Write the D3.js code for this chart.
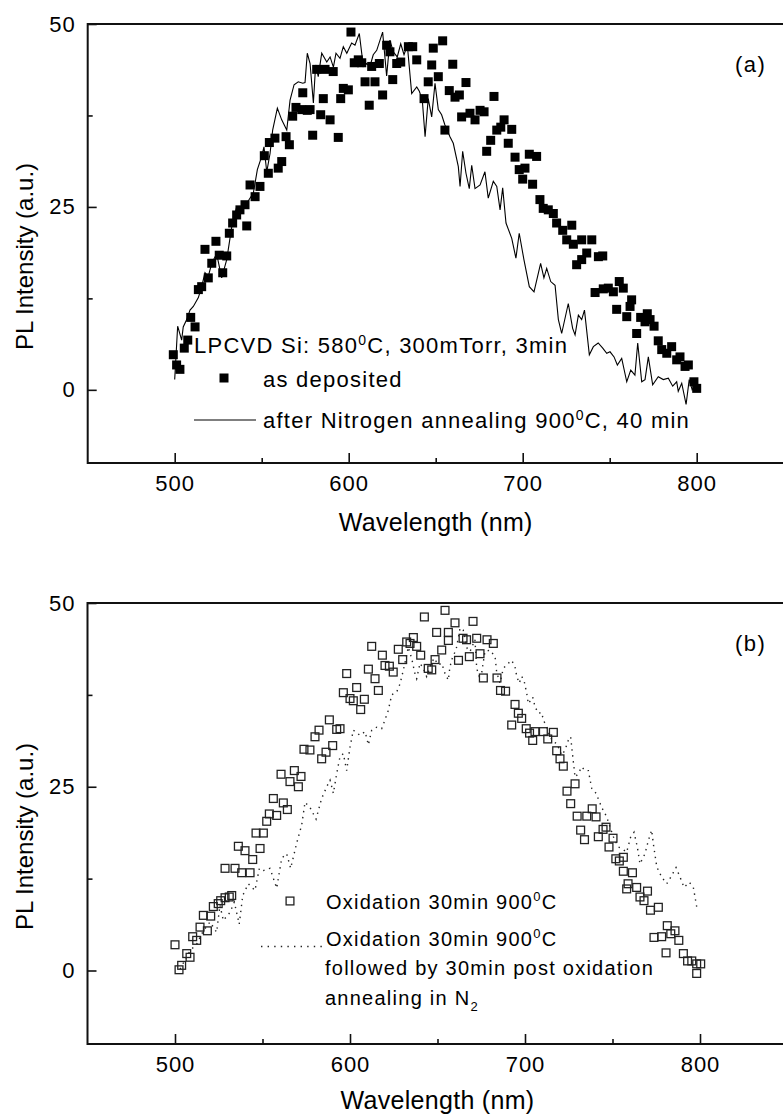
<!DOCTYPE html>
<html>
<head>
<meta charset="utf-8">
<script src="https://cdn.jsdelivr.net/npm/d3@7"></script>
<style>
  body { margin: 0; background: #fff; }
  svg text { font-family: 'Liberation Sans', Arial, Helvetica, sans-serif; fill: #000; }
</style>
</head>
<body>
<div id="wrapper"></div>
<script>
// ---- data (wavelength nm, PL intensity a.u.) ----

// (a) as deposited - filled squares
const asDeposited = [[499.2,4.8],[501.1,3.4],[503.0,2.8],[505.5,5.7],[507.5,6.8],[509.2,9.9],[511.7,8.6],[513.6,13.7],[515.5,14.1],[517.4,19.2],[519.3,15.3],[521.3,17.3],[523.7,20.3],[525.6,18.4],[527.6,16.0],[529.9,18.3],[531.4,21.4],[533.3,22.8],[535.6,23.9],[537.5,24.6],[540.4,25.3],[541.4,22.4],[543.3,28.0],[546.2,26.4],[549.0,27.8],[551.5,32.0],[553.8,29.6],[554.4,33.8],[557.6,34.4],[559.5,30.3],[561.5,31.2],[564.0,34.6],[565.9,33.5],[567.8,37.4],[569.7,38.6],[573.0,38.3],[573.6,40.6],[576.2,38.2],[577.8,38.3],[579.3,34.8],[581.6,43.8],[583.9,37.6],[585.4,39.8],[586.4,43.8],[589.3,36.9],[591.1,43.5],[594.0,34.5],[595.4,39.8],[596.9,41.2],[599.8,41.0],[601.3,48.9],[603.2,44.7],[605.5,45.1],[607.5,44.7],[609.4,42.1],[611.8,38.9],[613.2,44.2],[615.1,42.1],[617.6,44.6],[619.5,40.3],[621.8,47.1],[623.7,46.2],[625.3,42.4],[627.6,44.6],[629.9,44.8],[634.3,46.9],[636.8,46.9],[639.1,45.1],[643.3,39.8],[645.7,42.1],[647.7,44.4],[648.6,46.7],[651.5,42.8],[654.0,47.7],[655.3,35.5],[657.8,40.9],[659.8,44.5],[661.1,40.0],[663.6,40.3],[664.9,37.3],[667.4,42.0],[669.7,37.8],[672.6,36.9],[675.5,38.2],[677.8,38.0],[679.3,32.6],[681.6,34.1],[683.5,40.1],[685.1,35.5],[687.4,35.9],[689.3,36.9],[691.7,33.7],[693.7,35.6],[695.6,31.8],[698.0,30.1],[700.0,28.8],[701.3,30.3],[703.8,32.2],[705.7,28.1],[708.0,31.9],[709.9,26.0],[711.8,24.8],[714.7,24.6],[717.6,24.1],[719.5,22.8],[723.0,21.8],[725.3,20.5],[728.2,22.5],[729.1,19.9],[731.0,17.1],[733.9,17.8],[733.9,20.5],[736.8,18.7],[739.7,20.5],[741.6,13.3],[743.5,18.2],[746.0,18.3],[746.3,13.8],[749.2,13.9],[752.1,13.4],[754.0,11.0],[755.5,14.8],[757.8,13.9],[759.8,10.0],[761.7,11.4],[762.6,12.3],[765.5,7.7],[767.8,9.9],[770.3,9.3],[771.6,10.4],[773.2,9.6],[775.5,8.7],[777.9,6.7],[779.9,5.5],[782.8,5.0],[785.6,5.9],[788.5,4.1],[790.4,4.5],[793.3,3.2],[795.2,3.4],[798.4,1.1],[800.0,0.2]]

// (a) after nitrogen annealing - solid line
const n2Annealed = [[500.0,1.4],[501.7,8.7],[504.0,6.8],[504.9,8.6],[506.9,9.6],[508.8,10.9],[510.7,11.4],[513.6,12.6],[515.5,14.1],[517.4,16.0],[519.3,15.5],[521.3,17.3],[524.1,18.6],[527.0,15.3],[529.9,17.8],[532.8,22.3],[535.6,25.0],[538.5,24.6],[541.4,25.5],[545.2,26.9],[547.5,30.1],[550.0,31.9],[551.3,33.2],[552.9,29.8],[554.8,32.3],[556.3,35.5],[559.0,38.5],[561.5,36.9],[564.4,35.5],[566.3,39.6],[568.6,41.7],[571.0,42.1],[573.6,41.9],[574.9,42.0],[576.2,46.0],[577.8,44.6],[579.7,39.2],[581.0,44.4],[582.5,42.8],[584.5,46.0],[587.4,44.8],[589.3,45.5],[591.2,44.1],[592.7,46.0],[595.0,45.3],[596.9,46.9],[598.9,46.0],[601.7,47.4],[603.6,47.1],[606.1,48.7],[608.4,44.2],[610.3,44.6],[612.2,44.2],[614.1,45.8],[616.1,46.4],[619.5,48.9],[621.8,42.9],[623.7,47.8],[625.6,46.2],[627.9,45.5],[629.9,47.3],[631.8,45.8],[633.7,47.1],[636.2,40.5],[639.1,41.4],[640.6,40.8],[642.3,39.6],[643.9,34.6],[645.7,39.8],[647.7,37.3],[649.6,41.9],[651.5,38.3],[653.4,37.6],[655.3,36.2],[658.2,34.6],[660.1,33.7],[663.0,30.5],[664.0,27.8],[665.5,32.6],[667.4,29.6],[669.3,27.5],[670.7,30.7],[672.6,27.5],[675.5,28.0],[678.3,29.8],[680.2,26.2],[683.1,28.5],[685.1,27.8],[687.0,24.6],[688.5,27.6],[690.4,22.8],[693.7,20.7],[696.1,18.0],[698.0,21.4],[700.7,17.8],[703.8,14.1],[706.5,13.4],[710.3,17.3],[712.2,15.3],[713.8,16.6],[716.1,14.8],[718.6,14.3],[720.5,9.6],[722.4,7.7],[726.2,11.8],[728.7,8.4],[730.1,7.5],[732.0,10.2],[733.9,9.6],[735.5,10.9],[738.3,4.8],[740.6,5.9],[743.4,6.4],[746.0,5.7],[748.3,5.0],[750.2,5.2],[752.5,4.5],[754.4,3.4],[756.9,4.3],[759.8,1.1],[762.1,2.7],[764.5,2.0],[766.1,6.4],[768.4,1.1],[770.3,1.4],[772.2,4.5],[774.7,0.7],[777.9,1.8],[780.8,1.4],[783.7,1.6],[786.2,0.5],[788.5,1.1],[789.4,-0.2],[791.4,0.9],[793.9,-2.0],[795.7,1.4],[797.4,0.0],[799.6,0.7]]

// (b) oxidation 30min 900C - open squares
const oxidized = [[500.0,3.5],[502.3,0.1],[503.8,0.7],[506.7,2.3],[508.6,1.8],[510.1,4.6],[512.4,4.1],[514.3,5.9],[516.2,7.5],[518.5,5.4],[520.4,7.4],[521.9,8.7],[524.7,9.1],[526.1,9.5],[528.6,9.9],[528.6,13.9],[531.0,10.0],[532.4,10.2],[534.3,13.9],[536.2,16.9],[538.1,13.3],[540.0,16.3],[542.9,13.3],[544.4,15.1],[546.3,18.7],[548.6,16.6],[550.5,18.7],[552.4,20.3],[553.9,21.3],[556.2,23.4],[558.1,21.1],[560.6,26.7],[561.9,22.8],[564.2,21.9],[565.7,25.7],[568.2,27.2],[570.5,25.0],[572.0,26.4],[573.7,30.1],[577.1,30.0],[580.0,31.8],[582.3,32.7],[583.8,28.8],[586.3,29.7],[588.2,34.1],[590.1,30.6],[592.4,32.8],[594.3,32.9],[596.2,37.8],[598.1,40.4],[600.0,37.0],[601.9,36.7],[603.8,38.5],[606.1,35.5],[608.2,36.9],[610.5,41.0],[612.4,44.1],[614.3,39.7],[616.2,38.1],[618.5,42.9],[620.0,41.5],[622.5,41.4],[624.7,40.6],[627.6,43.7],[630.1,42.3],[632.4,44.7],[634.3,44.5],[636.2,45.3],[638.1,44.1],[640.4,42.9],[642.5,48.1],[644.7,41.1],[646.7,40.9],[648.6,42.3],[649.5,46.0],[652.4,43.6],[654.3,49.0],[656.2,46.0],[656.2,44.9],[660.0,47.3],[662.0,42.2],[664.6,45.2],[666.6,45.0],[668.2,42.7],[670.3,47.5],[672.4,45.2],[674.3,43.1],[676.2,39.8],[678.3,45.0],[681.9,44.5],[684.0,39.8],[686.0,38.1],[688.9,38.0],[692.4,33.4],[694.3,36.2],[696.2,35.0],[698.1,34.3],[700.7,32.9],[702.6,32.3],[704.4,31.3],[705.7,32.5],[710.5,32.5],[713.0,31.5],[716.2,32.4],[718.1,29.9],[720.0,28.8],[721.9,27.8],[724.0,24.4],[726.1,22.7],[728.6,25.4],[729.8,21.0],[731.8,19.1],[734.0,17.8],[735.3,21.0],[738.4,22.0],[740.6,20.9],[741.9,18.2],[744.6,19.2],[746.3,19.5],[748.0,16.8],[750.3,18.0],[751.9,15.2],[753.9,14.9],[756.2,15.4],[756.2,13.5],[758.1,11.1],[758.9,11.8],[761.4,13.3],[763.8,11.3],[765.7,10.0],[768.0,9.5],[770.0,10.8],[771.7,8.2],[773.7,4.5],[776.2,8.6],[778.1,4.6],[780.6,2.4],[781.3,6.1],[783.3,5.0],[785.7,5.4],[787.9,4.1],[790.5,2.3],[792.9,1.3],[795.3,1.3],[798.1,0.9],[798.1,-0.4],[800.4,0.9]]

// (b) oxidation + post oxidation anneal in N2 - dotted line
const postAnnealed = [[502.9,0.2],[508.6,2.7],[512.4,3.6],[516.2,5.4],[520.0,6.6],[523.8,5.2],[525.7,8.9],[527.6,6.8],[531.4,7.9],[533.9,9.3],[536.7,6.3],[538.7,10.2],[541.9,11.8],[545.7,10.9],[548.2,13.9],[550.5,13.6],[554.3,13.9],[558.1,11.2],[561.0,15.3],[563.8,15.9],[566.1,13.9],[569.5,17.3],[572.4,19.8],[574.3,22.9],[577.1,22.2],[580.6,20.6],[583.8,23.4],[586.7,25.0],[588.6,25.9],[590.5,24.1],[592.4,26.8],[594.3,29.1],[596.2,29.5],[598.1,27.2],[600.0,30.4],[601.9,32.7],[605.7,32.0],[608.6,32.5],[610.5,30.7],[612.4,32.7],[615.3,33.1],[618.1,32.9],[620.0,34.1],[621.9,35.4],[623.8,37.5],[626.7,37.9],[628.6,39.0],[630.5,40.9],[632.4,42.9],[633.3,44.0],[635.3,42.4],[637.1,40.4],[638.1,39.7],[640.0,41.8],[641.9,41.1],[643.8,40.0],[645.7,41.3],[648.0,42.5],[650.5,41.6],[652.4,41.8],[654.3,40.4],[656.2,39.5],[657.1,41.3],[658.7,42.7],[660.6,43.6],[662.9,46.6],[664.7,46.3],[667.0,43.8],[668.6,43.4],[671.4,45.0],[672.4,41.1],[673.9,40.0],[675.3,40.6],[677.1,43.4],[680.0,43.6],[682.9,42.7],[683.8,40.6],[685.7,39.1],[687.6,41.1],[690.5,41.8],[692.4,42.2],[694.3,41.3],[695.3,40.0],[696.7,39.1],[698.1,40.0],[699.4,39.5],[701.0,37.7],[701.9,36.3],[704.4,37.2],[705.7,35.9],[707.6,35.0],[709.5,35.1],[710.5,34.1],[712.4,33.1],[714.3,31.8],[716.2,31.1],[718.1,30.9],[721.0,29.3],[722.9,30.0],[724.7,31.3],[726.1,31.8],[727.3,29.1],[728.6,26.3],[730.5,26.8],[732.4,27.7],[734.3,27.2],[736.2,27.2],[738.1,24.8],[740.6,24.1],[743.8,22.2],[746.7,20.9],[748.6,19.5],[750.5,18.2],[753.3,16.8],[755.3,16.6],[758.1,16.1],[760.3,18.1],[762.3,18.8],[764.2,16.8],[765.7,14.5],[768.6,15.9],[770.5,17.7],[772.4,19.1],[773.3,17.3],[775.3,14.1],[778.1,12.7],[781.0,11.8],[783.8,12.9],[786.3,14.0],[788.6,12.7],[790.9,11.3],[793.9,12.0],[796.2,11.3],[798.1,8.7]]

// axes
const xDomain = [450, 850]
const yDomain = [-10, 50]
const xMajorTicks = [500, 600, 700, 800]
const xMinorTicks = [550, 650, 750]
const yMajorTicks = [0, 25, 50]
const yMinorTicks = [12.5, 37.5]

const width = 783
const height = 1115

const wrapper = d3.select("#wrapper")
  .append("svg")
    .attr("width", width)
    .attr("height", height)
    .style("background", "#fff")

function drawPanel(p) {
  const xScale = d3.scaleLinear().domain(xDomain).range([p.left, p.right])
  const yScale = d3.scaleLinear().domain(yDomain).range([p.bottom, p.top])
  const g = wrapper.append("g")

  // frame (right edge falls outside the picture)
  g.append("path")
    .attr("d", `M${p.right + 2},${p.top}H${p.left}V${p.bottom}H${p.right + 2}`)
    .attr("fill", "none")
    .attr("stroke", "#111")
    .attr("stroke-width", 2)

  // ticks point inward
  g.append("g")
    .attr("transform", `translate(0,${p.bottom})`)
    .call(d3.axisBottom(xScale).tickValues(xMajorTicks).tickSizeInner(-10).tickSizeOuter(0).tickPadding(12))
  g.append("g")
    .attr("transform", `translate(0,${p.bottom})`)
    .call(d3.axisBottom(xScale).tickValues(xMinorTicks).tickSizeInner(-5).tickSizeOuter(0).tickFormat(""))
  g.append("g")
    .attr("transform", `translate(${p.left},0)`)
    .call(d3.axisLeft(yScale).tickValues(yMajorTicks).tickSizeInner(-9).tickSizeOuter(0).tickPadding(12))
  g.append("g")
    .attr("transform", `translate(${p.left},0)`)
    .call(d3.axisLeft(yScale).tickValues(yMinorTicks).tickSizeInner(-5).tickSizeOuter(0).tickFormat(""))

  g.selectAll(".domain").remove()
  g.selectAll(".tick line").attr("stroke", "#111").attr("stroke-width", 1.6)
  g.selectAll(".tick text")
    .style("font-size", "22px")
    .style("letter-spacing", "1px")
    .attr("fill", "#000")

  // axis titles
  g.append("text")
    .attr("x", (p.left + p.right) / 2)
    .attr("y", p.bottom + p.titleGap)
    .attr("text-anchor", "middle")
    .style("font-size", "25px")
    .style("letter-spacing", "0.3px")
    .text("Wavelength (nm)")

  g.append("text")
    .attr("transform", `translate(33,${(p.top + p.bottom) / 2 + 13}) rotate(-90)`)
    .attr("text-anchor", "middle")
    .style("font-size", "24px")
    .text("PL Intensity (a.u.)")

  // panel letter
  g.append("text")
    .attr("x", 735)
    .attr("y", p.top + 48)
    .style("font-size", "22px")
    .style("letter-spacing", "1.5px")
    .text(p.letter)

  return { g, xScale, yScale }
}

function supText(sel, parts, small) {
  // parts: [text, kind]
  parts.forEach(([t, kind]) => {
    const ts = sel.append("tspan").text(t)
    if (kind === "sup") ts.attr("dy", -8).style("font-size", small)
    if (kind === "sub") ts.attr("dy", 6).style("font-size", small)
    if (kind === "back-sup") ts.attr("dy", 8)
  })
}

// ---------- panel (a) ----------
const a = drawPanel({ left: 87.7, right: 783.7, top: 24, bottom: 463, letter: "(a)", titleGap: 68 })

a.g.append("path")
  .datum(n2Annealed)
  .attr("fill", "none")
  .attr("stroke", "#000")
  .attr("stroke-width", 1.1)
  .attr("d", d3.line().x(d => a.xScale(d[0])).y(d => a.yScale(d[1])))

a.g.selectAll("rect.dep")
  .data(asDeposited)
  .enter().append("rect")
    .attr("class", "dep")
    .attr("x", d => a.xScale(d[0]) - 4.5)
    .attr("y", d => a.yScale(d[1]) - 4.5)
    .attr("width", 9)
    .attr("height", 9)
    .attr("fill", "#000")

const legA = a.g.append("g").style("font-size", "22px").style("letter-spacing", "1.25px")
supText(legA.append("text").attr("x", 194).attr("y", 353),
  [["LPCVD Si: 580", null], ["0", "sup"], ["C, 300mTorr, 3min", "back-sup"]], "14px")
legA.append("rect").attr("x", 219.5).attr("y", 373.5).attr("width", 9).attr("height", 9).attr("fill", "#000")
legA.append("text").attr("x", 263).attr("y", 387).text("as deposited")
legA.append("line").attr("x1", 194).attr("x2", 256).attr("y1", 420).attr("y2", 420)
  .attr("stroke", "#000").attr("stroke-width", 1.1)
supText(legA.append("text").attr("x", 263).attr("y", 428),
  [["after Nitrogen annealing 900", null], ["0", "sup"], ["C, 40 min", "back-sup"]], "14px")

// ---------- panel (b) ----------
const b = drawPanel({ left: 87.5, right: 787.5, top: 603, bottom: 1044, letter: "(b)", titleGap: 65 })

b.g.append("path")
  .datum(postAnnealed)
  .attr("fill", "none")
  .attr("stroke", "#222")
  .attr("stroke-width", 1.4)
  .attr("stroke-dasharray", "1.4,4.6")
  .attr("d", d3.line().x(d => b.xScale(d[0])).y(d => b.yScale(d[1])))

b.g.selectAll("rect.ox")
  .data(oxidized)
  .enter().append("rect")
    .attr("class", "ox")
    .attr("x", d => b.xScale(d[0]) - 3.9)
    .attr("y", d => b.yScale(d[1]) - 3.9)
    .attr("width", 7.8)
    .attr("height", 7.8)
    .attr("fill", "none")
    .attr("stroke", "#222")
    .attr("stroke-width", 1.3)

const legB = b.g.append("g").style("font-size", "20px").style("letter-spacing", "1.25px")
legB.append("rect").attr("x", 286.1).attr("y", 897.1).attr("width", 7.8).attr("height", 7.8)
  .attr("fill", "none").attr("stroke", "#222").attr("stroke-width", 1.3)
supText(legB.append("text").attr("x", 326).attr("y", 909),
  [["Oxidation 30min 900", null], ["0", "sup"], ["C", "back-sup"]], "13px")
legB.append("line").attr("x1", 261).attr("x2", 322).attr("y1", 946.5).attr("y2", 946.5)
  .attr("stroke", "#222").attr("stroke-width", 1.4).attr("stroke-dasharray", "1.4,5.2")
supText(legB.append("text").attr("x", 326).attr("y", 946),
  [["Oxidation 30min 900", null], ["0", "sup"], ["C", "back-sup"]], "13px")
legB.append("text").attr("x", 325).attr("y", 975).text("followed by 30min post oxidation")
supText(legB.append("text").attr("x", 325).attr("y", 1005),
  [["annealing in N", null], ["2", "sub"]], "13px")
</script>
</body>
</html>
